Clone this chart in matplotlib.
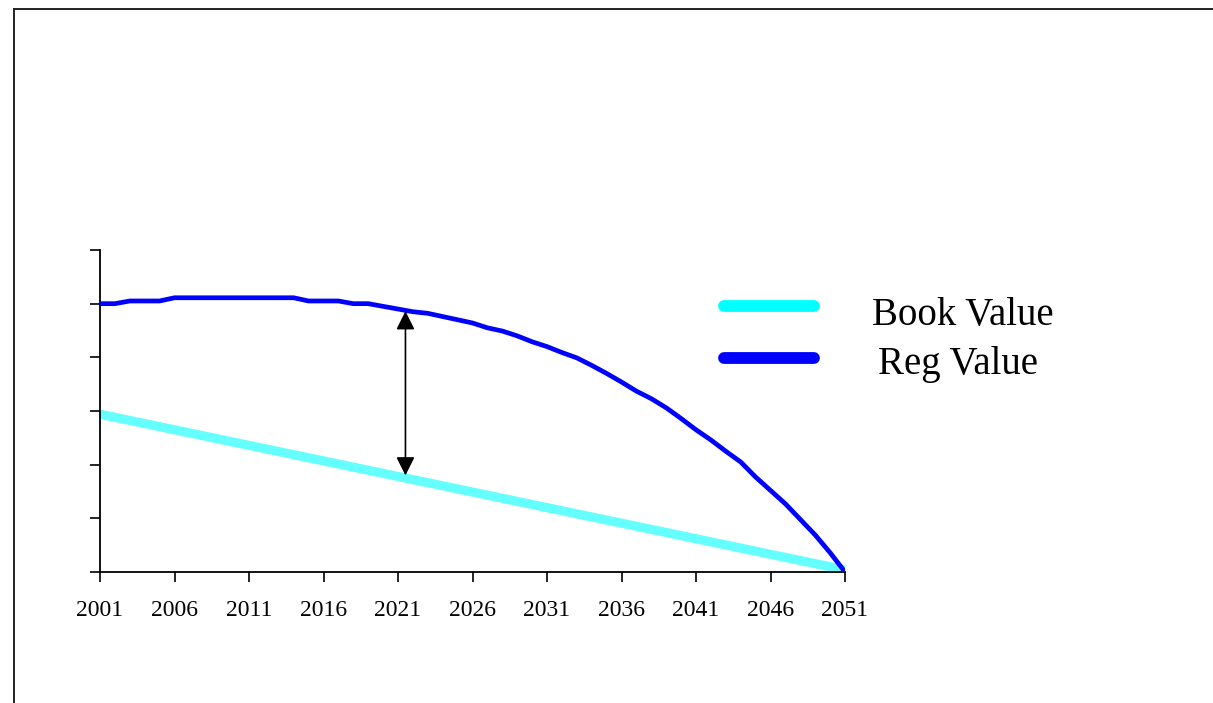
import matplotlib
matplotlib.use("Agg")
import matplotlib.pyplot as plt
from matplotlib.lines import Line2D

years = list(range(2001, 2052))
reg_value = [5.00, 5.00, 5.05, 5.05, 5.05, 5.11, 5.11, 5.11, 5.11, 5.11,
             5.11, 5.11, 5.11, 5.11, 5.05, 5.05, 5.05, 5.00, 5.00, 4.95,
             4.90, 4.85, 4.82, 4.76, 4.70, 4.64, 4.55, 4.49, 4.40, 4.29,
             4.20, 4.09, 3.99, 3.85, 3.70, 3.54, 3.37, 3.23, 3.06, 2.86,
             2.65, 2.46, 2.25, 2.05, 1.77, 1.52, 1.27, 0.98, 0.69, 0.36,
             0.00]
book_value = [2.940, 2.882, 2.824, 2.766, 2.708, 2.650, 2.592, 2.534, 2.476, 2.418,
              2.360, 2.302, 2.244, 2.186, 2.128, 2.070, 2.012, 1.954, 1.896, 1.838,
              1.780, 1.722, 1.664, 1.606, 1.548, 1.490, 1.432, 1.374, 1.316, 1.258,
              1.200, 1.142, 1.084, 1.026, 0.968, 0.910, 0.852, 0.794, 0.736, 0.678,
              0.620, 0.562, 0.504, 0.446, 0.388, 0.330, 0.272, 0.214, 0.156, 0.098,
              0.040]
tick_years = [2001, 2006, 2011, 2016, 2021, 2026, 2031, 2036, 2041, 2046, 2051]
labels = ["Book Value", "Reg Value"]
arrow_x = 2021.5
arrow_top = 4.86
arrow_bottom = 1.80

W, H = 1213, 703
fig = plt.figure(figsize=(W / 100, H / 100), dpi=100)
serif = ["Liberation Serif", "DejaVu Serif"]

ax = fig.add_axes([100 / W, (H - 572) / H, 745 / W, 322 / H])
ax.plot(years, book_value, color="#66FFFF", lw=6.6, solid_capstyle="butt", zorder=2)
ax.plot(years, reg_value, color="#0000FF", lw=3.4, zorder=3)
ax.annotate("", xy=(arrow_x, arrow_top), xytext=(arrow_x, arrow_bottom),
            arrowprops=dict(arrowstyle="<|-|>", color="black", lw=1.2,
                            mutation_scale=28, shrinkA=0, shrinkB=0), zorder=4)

ax.set_xlim(2001, 2051)
ax.set_ylim(0, 6)
ax.set_xticks(tick_years)
ax.set_xticklabels([str(y) for y in tick_years], fontfamily=serif, fontsize=17)
ax.set_yticks([0, 1, 2, 3, 4, 5, 6])
ax.set_yticklabels([])
ax.tick_params(axis="both", direction="out", length=7, width=1.2, color="black", pad=13)
for s in ["top", "right"]:
    ax.spines[s].set_visible(False)
for s in ["left", "bottom"]:
    ax.spines[s].set_linewidth(1.3)
    ax.spines[s].set_color("black")
ax.patch.set_alpha(0)

# legend
fig.add_artist(Line2D([724 / W, 814 / W], [1 - 306 / H, 1 - 306 / H], color="#00FFFF",
                      lw=8.5, solid_capstyle="round"))
fig.add_artist(Line2D([724 / W, 814 / W], [1 - 358 / H, 1 - 358 / H], color="#0000FF",
                      lw=8.5, solid_capstyle="round"))
fig.text(963 / W, 1 - 325 / H, labels[0], ha="center", va="baseline", fontfamily=serif, fontsize=28)
fig.text(958 / W, 1 - 374 / H, labels[1], ha="center", va="baseline", fontfamily=serif, fontsize=28)

# outer frame
fig.add_artist(Line2D([14 / W, 14 / W], [-0.05, 1 - 8.5 / H], color="#222222", lw=1.4))
fig.add_artist(Line2D([14 / W, 1.05], [1 - 8.5 / H, 1 - 8.5 / H], color="#222222", lw=1.4))

fig.savefig("out.png", dpi=100)
